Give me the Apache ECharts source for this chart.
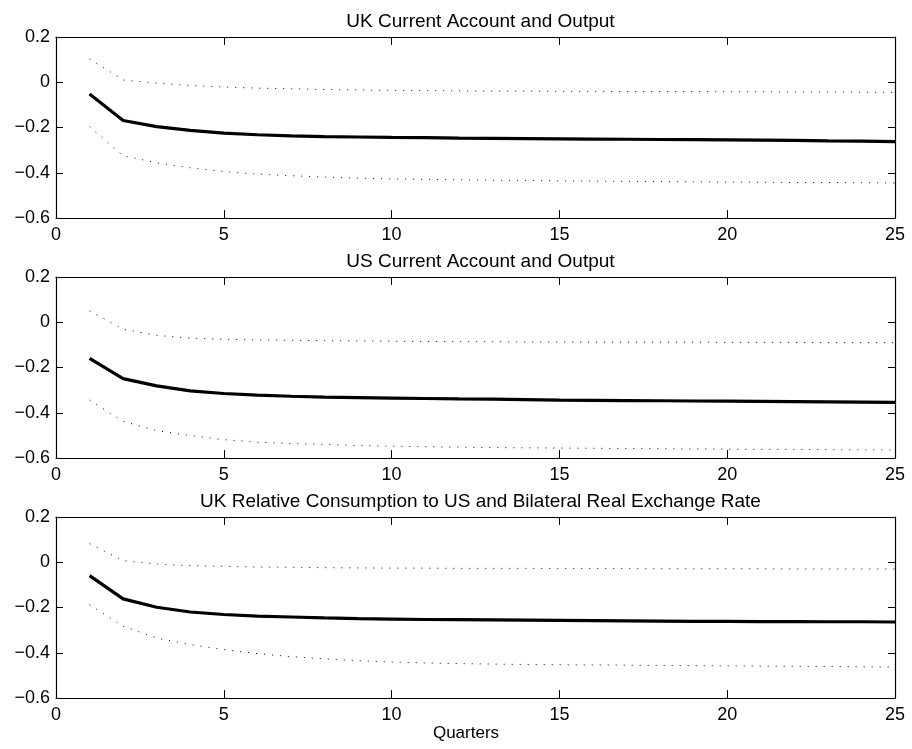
<!DOCTYPE html>
<html>
<head>
<meta charset="utf-8">
<script src="https://cdn.jsdelivr.net/npm/echarts@6/dist/echarts.min.js"></script>
<style>
html,body{margin:0;padding:0;background:#fff;}
#chart{width:912px;height:749px;}
</style>
</head>
<body>
<div id="chart"></div>
<script>
// Quarters (x values)
var quarters = [1,2,3,4,5,6,7,8,9,10,11,12,13,14,15,16,17,18,19,20,21,22,23,24,25];

var titles = [
  "UK Current Account and Output",
  "US Current Account and Output",
  "UK Relative Consumption to US and Bilateral Real Exchange Rate"
];
var xLabel = "Quarters";

// Panel 1: UK Current Account and Output
var p1Mid   = [-0.052,-0.169,-0.196,-0.213,-0.225,-0.232,-0.237,-0.240,-0.242,-0.244,-0.245,-0.247,-0.248,-0.249,-0.250,-0.251,-0.252,-0.253,-0.254,-0.255,-0.256,-0.257,-0.259,-0.260,-0.262];
var p1Upper = [0.103,0.010,-0.004,-0.014,-0.021,-0.026,-0.029,-0.032,-0.034,-0.036,-0.037,-0.038,-0.039,-0.039,-0.040,-0.040,-0.041,-0.041,-0.041,-0.042,-0.042,-0.043,-0.043,-0.044,-0.045];
var p1Lower = [-0.196,-0.325,-0.356,-0.378,-0.395,-0.406,-0.413,-0.419,-0.424,-0.427,-0.429,-0.431,-0.433,-0.434,-0.436,-0.437,-0.438,-0.439,-0.440,-0.441,-0.442,-0.443,-0.443,-0.444,-0.445];

// Panel 2: US Current Account and Output
var p2Mid   = [-0.160,-0.249,-0.281,-0.303,-0.315,-0.322,-0.327,-0.331,-0.333,-0.335,-0.337,-0.339,-0.340,-0.342,-0.344,-0.345,-0.346,-0.347,-0.348,-0.349,-0.350,-0.351,-0.352,-0.353,-0.354];
var p2Upper = [0.050,-0.031,-0.058,-0.070,-0.075,-0.078,-0.080,-0.081,-0.083,-0.084,-0.085,-0.086,-0.086,-0.087,-0.087,-0.088,-0.088,-0.088,-0.088,-0.089,-0.089,-0.089,-0.090,-0.090,-0.090];
var p2Lower = [-0.344,-0.438,-0.479,-0.501,-0.519,-0.530,-0.536,-0.540,-0.545,-0.548,-0.550,-0.552,-0.554,-0.555,-0.556,-0.557,-0.558,-0.559,-0.560,-0.561,-0.562,-0.562,-0.563,-0.564,-0.565];

// Panel 3: UK Relative Consumption to US and Bilateral Real Exchange Rate
var p3Mid   = [-0.059,-0.162,-0.199,-0.220,-0.231,-0.238,-0.242,-0.246,-0.249,-0.251,-0.253,-0.254,-0.255,-0.256,-0.257,-0.258,-0.259,-0.260,-0.261,-0.261,-0.262,-0.262,-0.263,-0.263,-0.264];
var p3Upper = [0.082,0.007,-0.008,-0.015,-0.018,-0.021,-0.022,-0.024,-0.025,-0.026,-0.026,-0.027,-0.027,-0.027,-0.028,-0.028,-0.028,-0.029,-0.029,-0.029,-0.029,-0.030,-0.030,-0.030,-0.030];
var p3Lower = [-0.188,-0.283,-0.335,-0.364,-0.386,-0.404,-0.417,-0.427,-0.435,-0.441,-0.445,-0.448,-0.450,-0.452,-0.453,-0.454,-0.455,-0.456,-0.457,-0.458,-0.459,-0.460,-0.461,-0.462,-0.463];

var panels = [
  {mid:p1Mid, up:p1Upper, lo:p1Lower},
  {mid:p2Mid, up:p2Upper, lo:p2Lower},
  {mid:p3Mid, up:p3Upper, lo:p3Lower}
];

var FONT = "Liberation Sans, Arial, Helvetica, sans-serif";
var FS_TICK = 18, FS_TITLE = 19, FS_XLAB = 17;
var gridTops = [37, 277, 517];
var gridLeft = 56, gridWidth = 839, gridHeight = 181;

function pairs(ys){ return quarters.map(function(q,i){ return [q, ys[i]]; }); }
function fmtY(v){ var r = Math.round(v*10)/10; if (Math.abs(r) < 1e-9) r = 0; return String(r).replace('-', '\u2212'); }

var grid = [], xAxis = [], yAxis = [], series = [], title = [];
panels.forEach(function(p, k){
  grid.push({left:gridLeft, top:gridTops[k], width:gridWidth, height:gridHeight, show:false});
  var axLine = {show:true, onZero:false, lineStyle:{color:'#000', width:1.2}};
  // bottom x
  xAxis.push({type:'value', gridIndex:k, min:0, max:25, interval:5, position:'bottom',
    axisLine:axLine, axisTick:{show:true, inside:true, length:8, lineStyle:{color:'#000'}},
    axisLabel:{show:true, color:'#000', fontFamily:FONT, fontSize:FS_TICK, margin:8},
    splitLine:{show:false}});
  // top x (box)
  xAxis.push({type:'value', gridIndex:k, min:0, max:25, interval:5, position:'top',
    axisLine:axLine, axisTick:{show:true, inside:true, length:8, lineStyle:{color:'#000'}},
    axisLabel:{show:false}, splitLine:{show:false}});
  // left y
  yAxis.push({type:'value', gridIndex:k, min:-0.6, max:0.2, interval:0.2, position:'left',
    axisLine:axLine, axisTick:{show:true, inside:true, length:7, lineStyle:{color:'#000'}},
    axisLabel:{show:true, color:'#000', fontFamily:FONT, fontSize:FS_TICK, margin:6, formatter:fmtY},
    splitLine:{show:false}});
  // right y (box)
  yAxis.push({type:'value', gridIndex:k, min:-0.6, max:0.2, interval:0.2, position:'right',
    axisLine:axLine, axisTick:{show:true, inside:true, length:7, lineStyle:{color:'#000'}},
    axisLabel:{show:false}, splitLine:{show:false}});
  var xi = 2*k, yi = 2*k;
  series.push({type:'line', xAxisIndex:xi, yAxisIndex:yi, data:pairs(p.up), showSymbol:false, silent:true,
    lineStyle:{color:'#000', width:1, type:[1,7]}});
  series.push({type:'line', xAxisIndex:xi, yAxisIndex:yi, data:pairs(p.lo), showSymbol:false, silent:true,
    lineStyle:{color:'#000', width:1, type:[1,7]}});
  series.push({type:'line', xAxisIndex:xi, yAxisIndex:yi, data:pairs(p.mid), showSymbol:false, silent:true,
    lineStyle:{color:'#000', width:3.2, type:'solid'}});
  title.push({text:titles[k], left:gridLeft + gridWidth/2, top:gridTops[k]-30, textAlign:'center',
    textStyle:{color:'#000', fontFamily:FONT, fontSize:FS_TITLE, fontWeight:'normal'}});
});
title.push({text:xLabel, left:461, top:720, textAlign:'center',
  textStyle:{color:'#000', fontFamily:FONT, fontSize:FS_XLAB, fontWeight:'normal'}});

var chart = echarts.init(document.getElementById('chart'), null, {renderer:'canvas'});
chart.setOption({
  backgroundColor:'#fff',
  animation:false,
  title:title,
  grid:grid, xAxis:xAxis, yAxis:yAxis, series:series
});
</script>
</body>
</html>
